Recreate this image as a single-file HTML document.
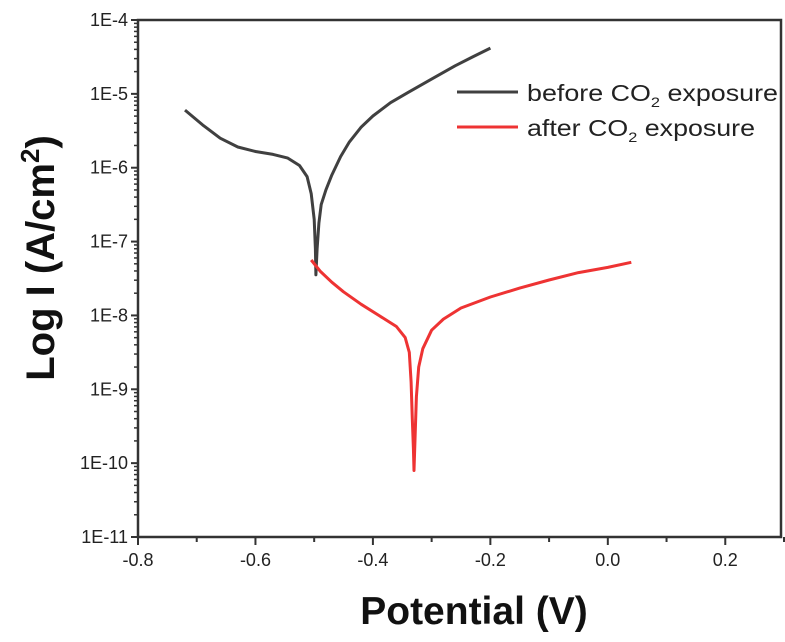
<!DOCTYPE html>
<html><head><meta charset="utf-8"><style>
body{margin:0;background:#fff;}
svg{display:block;font-family:"Liberation Sans",Arial,sans-serif;}
</style></head><body>
<svg id="chart" width="785" height="642" viewBox="0 0 785 642">
<rect x="0" y="0" width="785" height="642" fill="#fff"/>
<g id="axes"></g>
<g id="series"></g>
<g>
<line x1="457" y1="92" x2="518" y2="92" stroke="#404040" stroke-width="3"/>
<text x="527" y="101" font-size="23" fill="#222" textLength="251" lengthAdjust="spacingAndGlyphs">before CO<tspan font-size="14" dy="6">2</tspan><tspan dy="-6"> exposure</tspan></text>
<line x1="457" y1="127" x2="518" y2="127" stroke="#ee3333" stroke-width="3"/>
<text x="527" y="136" font-size="23" fill="#222" textLength="228" lengthAdjust="spacingAndGlyphs">after CO<tspan font-size="14" dy="6">2</tspan><tspan dy="-6"> exposure</tspan></text>
</g>
<text transform="translate(54,258) rotate(-90)" text-anchor="middle" font-size="40" font-weight="bold" fill="#111">Log I (A/cm<tspan font-size="26" dy="-15">2</tspan><tspan dy="15">)</tspan></text>
<text x="474" y="624" text-anchor="middle" font-size="39" font-weight="bold" fill="#111">Potential (V)</text>
</svg>
<script>
const xTicks=[-0.8,-0.6,-0.4,-0.2,0.0,0.2];
const xTickLabels=["-0.8","-0.6","-0.4","-0.2","0.0","0.2"];
const yDecades=[-4,-5,-6,-7,-8,-9,-10,-11];
const yTickLabels=["1E-4","1E-5","1E-6","1E-7","1E-8","1E-9","1E-10","1E-11"];
const beforePotential=[-0.72,-0.69,-0.66,-0.63,-0.6,-0.57,-0.545,-0.525,-0.512,-0.505,-0.5,-0.498,-0.497,-0.495,-0.492,-0.488,-0.48,-0.47,-0.455,-0.44,-0.42,-0.4,-0.37,-0.34,-0.3,-0.26,-0.23,-0.2];
const beforeLogI=[-5.22,-5.42,-5.6,-5.72,-5.78,-5.82,-5.87,-5.97,-6.12,-6.35,-6.7,-7.1,-7.45,-7.1,-6.75,-6.5,-6.3,-6.1,-5.85,-5.65,-5.45,-5.3,-5.12,-4.98,-4.8,-4.62,-4.5,-4.38];
const afterPotential=[-0.505,-0.49,-0.47,-0.45,-0.42,-0.39,-0.36,-0.345,-0.338,-0.335,-0.333,-0.331,-0.33,-0.328,-0.326,-0.322,-0.315,-0.3,-0.28,-0.25,-0.2,-0.15,-0.1,-0.05,0.0,0.04];
const afterLogI=[-7.25,-7.4,-7.55,-7.68,-7.85,-8.0,-8.15,-8.3,-8.5,-8.9,-9.4,-9.8,-10.1,-9.6,-9.1,-8.7,-8.45,-8.2,-8.05,-7.9,-7.75,-7.63,-7.52,-7.42,-7.35,-7.28];
const X0=138,X1=784,Y0=20,Y1=537;
const xMin=-0.8,xMax=0.3,yMax=-4,yMin=-11;
function sx(v){return X0+(v-xMin)/(xMax-xMin)*(X1-X0);}
function sy(v){return Y0+(yMax-v)/(yMax-yMin)*(Y1-Y0);}
const NS="http://www.w3.org/2000/svg";
function mk(tag,attrs,parent){const e=document.createElementNS(NS,tag);for(const k in attrs)e.setAttribute(k,attrs[k]);parent.appendChild(e);return e;}
const axes=document.getElementById('axes');
const frame=mk('rect',{x:X0,y:Y0,width:781-X0,height:Y1-Y0,fill:'none',stroke:'#333','stroke-width':2.5},axes);


xTicks.forEach((t,i)=>{
  const x=sx(t);
  const l=mk('line',{x1:x,y1:Y1,x2:x,y2:Y1+8,stroke:'#333','stroke-width':2},axes);
  
  
  const m=mk('line',{x1:sx(t+0.1),y1:Y1,x2:sx(t+0.1),y2:Y1+5,stroke:'#333','stroke-width':2},axes);
  
  
  const tx=mk('text',{x:x,y:Y1+29,'text-anchor':'middle','font-size':18,fill:'#222'},axes);
  tx.textContent=xTickLabels[i];
  
  
});
yDecades.forEach((d,i)=>{
  const y=sy(d);
  const l=mk('line',{x1:X0-7,y1:y,x2:X0,y2:y,stroke:'#333','stroke-width':2},axes);
  
  
  const tx=mk('text',{x:X0-10,y:y+6,'text-anchor':'end','font-size':18,fill:'#222'},axes);
  tx.textContent=yTickLabels[i];
  
  
  if(d>yMin){for(let k=2;k<=9;k++){const yy=sy(d-1+Math.log10(k));
    const m=mk('line',{x1:X0-4,y1:yy,x2:X0,y2:yy,stroke:'#333','stroke-width':1.5},axes);
    
    }}
});
const series=document.getElementById('series');
function line(xs,ys,color,name){
  const d=xs.map((v,i)=>(i?'L':'M')+sx(v).toFixed(1)+','+sy(ys[i]).toFixed(1)).join(' ');
  const p=mk('path',{d:d,fill:'none',stroke:color,'stroke-width':3,'stroke-linejoin':'round'},series);
  
  
}
line(beforePotential,beforeLogI,'#404040','series-before-co2');
line(afterPotential,afterLogI,'#ee3333','series-after-co2');
</script>
</body></html>
